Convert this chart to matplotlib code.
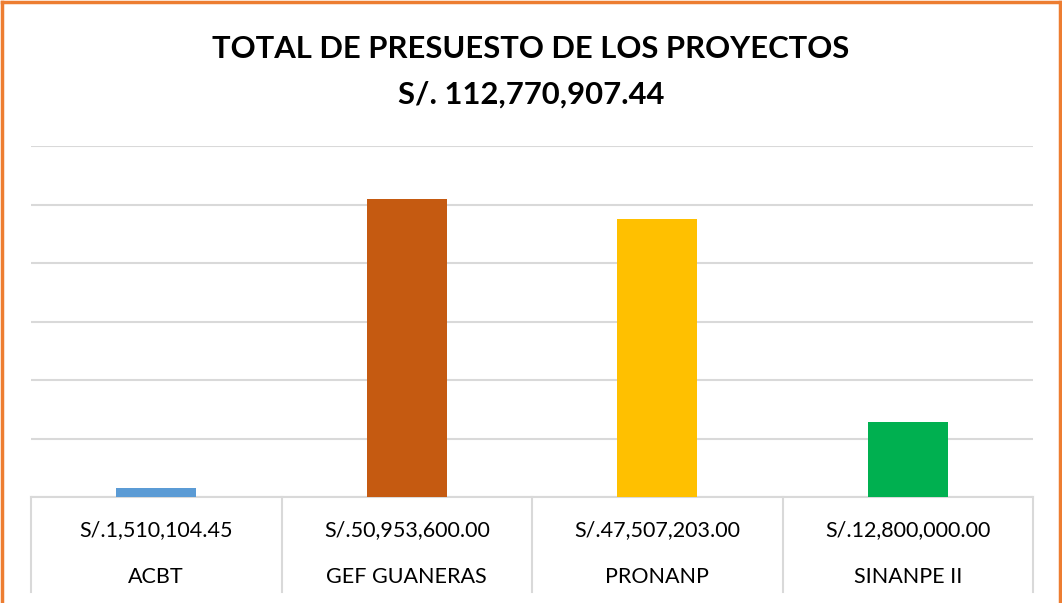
import matplotlib
matplotlib.use("Agg")
import matplotlib.pyplot as plt
import matplotlib.transforms as mtransforms
from matplotlib.lines import Line2D

# datos del grafico
proyectos = ["ACBT", "GEF GUANERAS", "PRONANP", "SINANPE II"]
montos = [1510104.45, 50953600.00, 47507203.00, 12800000.00]
etiquetas = ["S/.1,510,104.45", "S/.50,953,600.00", "S/.47,507,203.00", "S/.12,800,000.00"]
colores = ["#5B9BD5", "#C55A11", "#FFC000", "#00B050"]
titulo = "TOTAL DE PRESUESTO DE LOS PROYECTOS\nS/. 112,770,907.44"

plt.rcParams["font.family"] = ["Lato", "DejaVu Sans"]

fig = plt.figure(figsize=(10.62, 6.03), dpi=100)
ax = fig.add_axes([31/1062, 1 - 497/603, (1033 - 31)/1062, (497 - 146)/603])

x = range(len(proyectos))
ax.bar(x, montos, width=0.32, color=colores, zorder=3)

ax.set_xlim(-0.5, len(proyectos) - 0.5)
ax.set_ylim(0, 60000000)
ax.set_yticks(range(0, 60000001, 10000000))
ax.yaxis.grid(True, color="#D9D9D9", linewidth=1.5, zorder=0)
ax.set_xticks([])
ax.tick_params(axis="y", length=0, labelleft=False)
for s in ["top", "right", "left"]:
    ax.spines[s].set_visible(False)
ax.spines["bottom"].set_color("#D9D9D9")
ax.spines["bottom"].set_linewidth(1.5)

# tabla de datos debajo del grafico
trans = mtransforms.blended_transform_factory(ax.transData, ax.transAxes)
for i in range(len(proyectos) + 1):
    ax.plot([i - 0.5, i - 0.5], [0, -0.27], transform=trans, color="#D9D9D9",
            linewidth=1.5, clip_on=False)
for i, (nom, et) in enumerate(zip(proyectos, etiquetas)):
    ax.text(i, -0.094, et, transform=trans, ha="center", va="center",
            fontsize=15.5, color="black")
    ax.text(i, -0.228, nom, transform=trans, ha="center", va="center",
            fontsize=15.5, color="black")

fig.text(0.5, 1 - 72/603, titulo, ha="center", va="center", fontsize=22.3,
         fontweight="bold", linespacing=1.75)

# borde naranja (sin linea inferior)
borde = dict(color="#ED7D31", linewidth=2.5, transform=fig.transFigure)
fig.lines.append(Line2D([0.0015, 0.0015], [0, 0.9975], **borde))
fig.lines.append(Line2D([0.0015, 0.9985], [0.9975, 0.9975], **borde))
fig.lines.append(Line2D([0.9985, 0.9985], [0, 0.9975], **borde))

fig.savefig("out.png", dpi=100)
